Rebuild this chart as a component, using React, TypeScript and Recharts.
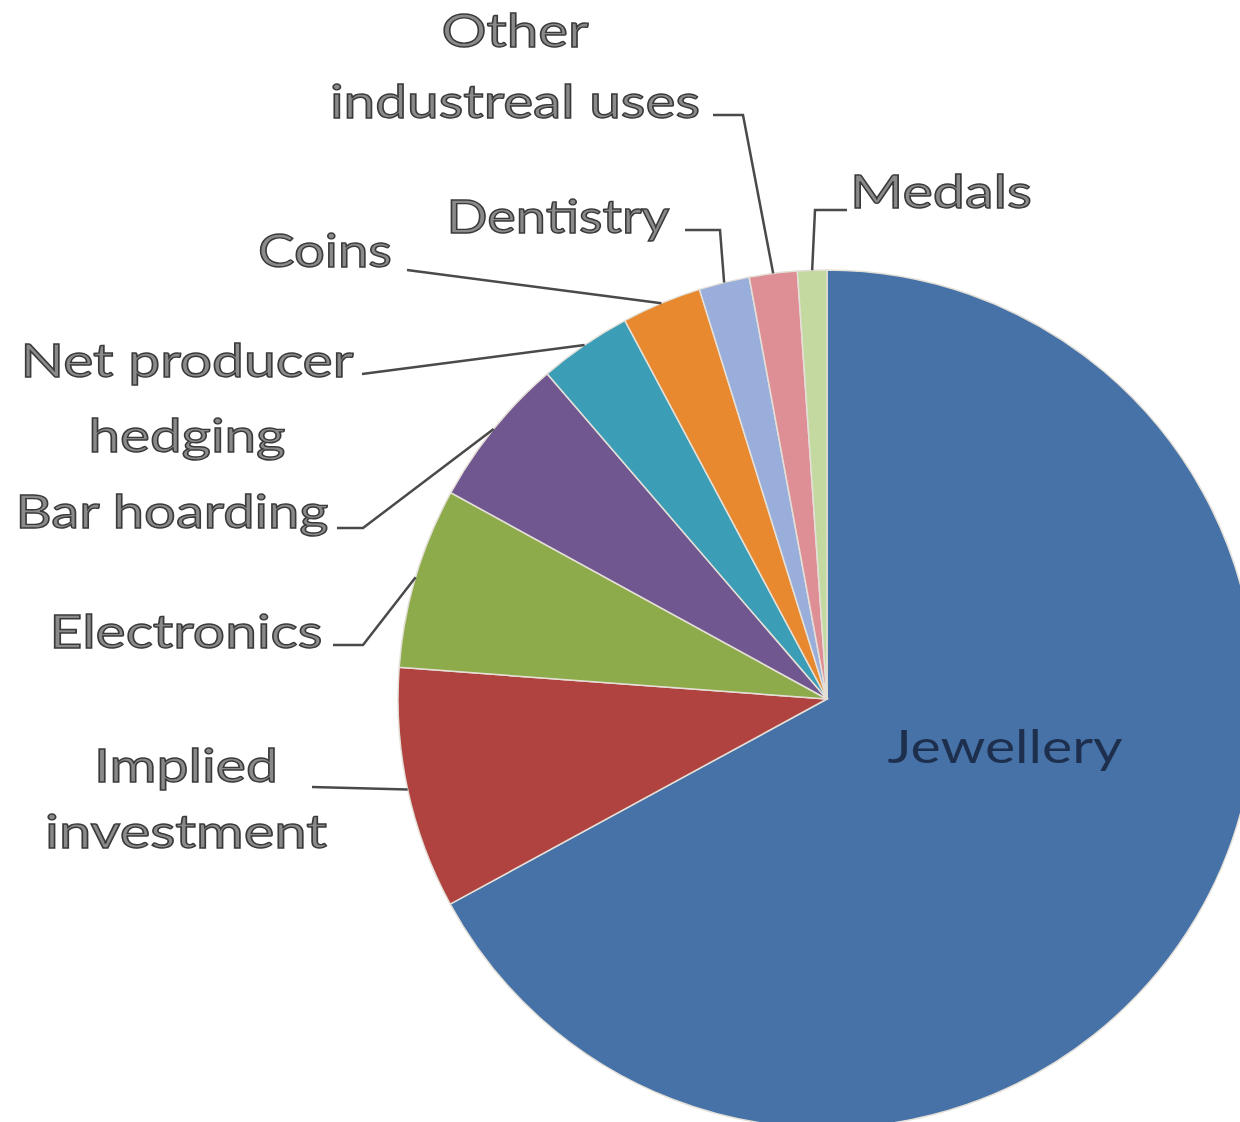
import { PieChart, Pie, Cell } from 'recharts';

// gold demand by use, % share
const categories = [
  'Jewellery',
  'Implied investment',
  'Electronics',
  'Bar hoarding',
  'Net producer hedging',
  'Coins',
  'Dentistry',
  'Other industreal uses',
  'Medals',
];
const shares = [67, 9.1, 6.8, 5.7, 3.5, 3.0, 1.9, 1.8, 1.1];
const labelLines = [
  ['Jewellery'],
  ['Implied', 'investment'],
  ['Electronics'],
  ['Bar hoarding'],
  ['Net producer', 'hedging'],
  ['Coins'],
  ['Dentistry'],
  ['Other', 'industreal uses'],
  ['Medals'],
];

const COLORS = [
  '#4672a8',
  '#b04340',
  '#8eab4c',
  '#71578f',
  '#3c9db7',
  '#e8882f',
  '#9aaedb',
  '#de8f95',
  '#c4d9a0',
];

// where each label sits and how its leader line bends
const LAYOUT = [
  { x: 1005, ys: [763], widths: [235], line: [] as number[][] },
  { x: 186, ys: [782, 848], widths: [184, 282], line: [[312, 787]] },
  { x: 186, ys: [648], widths: [273], line: [[333, 645], [363, 645]] },
  { x: 172, ys: [528], widths: [313], line: [[337, 528], [363, 528]] },
  { x: 187, ys: [377, 452], widths: [333, 197], line: [[362, 374]] },
  { x: 325, ys: [267], widths: [134], line: [[407, 270]] },
  { x: 558, ys: [233], widths: [223], line: [[685, 230], [720, 230]] },
  { x: 515, ys: [47, 118], widths: [147, 370], line: [[713, 115], [743, 115]] },
  { x: 941, ys: [208], widths: [182], line: [[847, 210], [815, 210]] },
];

const data = categories.map((name, i) => ({ name, value: shares[i] }));

const RAD = Math.PI / 180;

const renderLabel = (props: any) => {
  const { cx, cy, midAngle, outerRadius, index } = props;
  const layout = LAYOUT[index];
  const inside = index === 0;
  const ex = cx + outerRadius * Math.cos(midAngle * RAD);
  const ey = cy - outerRadius * Math.sin(midAngle * RAD);
  const pts = [...layout.line, [ex, ey]];
  return (
    <g key={`label-${index}`}>
      {!inside && (
        <polyline
          points={pts.map((p) => p.join(',')).join(' ')}
          fill="none"
          stroke="#4a4a4a"
          strokeWidth={2.5}
        />
      )}
      {labelLines[index].map((t, j) => (
        <text
          key={j}
          x={layout.x}
          y={layout.ys[j]}
          textAnchor="middle"
          textLength={layout.widths[j]}
          lengthAdjust="spacingAndGlyphs"
          fontFamily="Lato, 'Open Sans', sans-serif"
          fontSize={47}
          fill={inside ? '#1e2f4d' : '#8a8a8a'}
          stroke={inside ? 'none' : '#3a3a3a'}
          strokeWidth={inside ? 0 : 1.4}
        >
          {t}
        </text>
      ))}
    </g>
  );
};

export default function App() {
  return (
    <div style={{ position: 'absolute', left: 0, top: 0, width: 1240, height: 1122, background: '#fff' }}>
      <PieChart width={1240} height={1122} margin={{ top: 0, right: 0, bottom: 0, left: 0 }}>
        <Pie
          data={data}
          dataKey="value"
          nameKey="name"
          cx={827}
          cy={699}
          outerRadius={429}
          startAngle={90}
          endAngle={-270}
          stroke="#e4e0d8"
          strokeWidth={1.5}
          labelLine={false}
          label={renderLabel}
          isAnimationActive={false}
        >
          {data.map((entry, i) => (
            <Cell key={entry.name} fill={COLORS[i]} />
          ))}
        </Pie>
      </PieChart>
    </div>
  );
}
